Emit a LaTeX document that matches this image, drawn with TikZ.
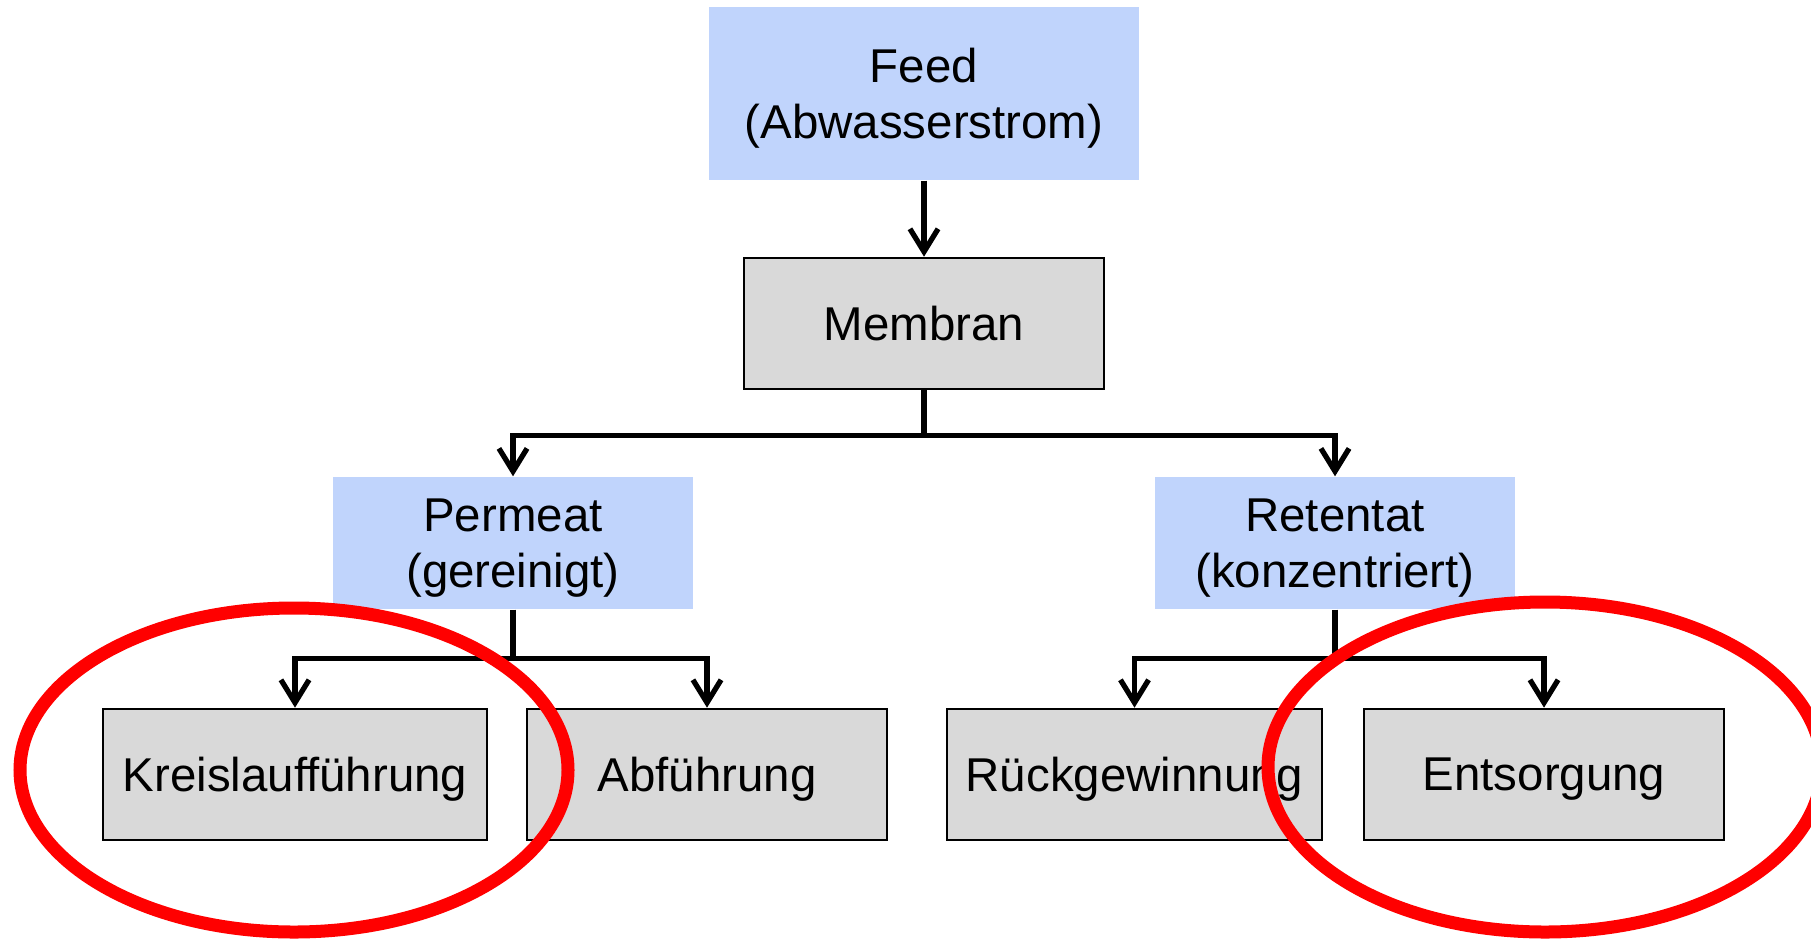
\documentclass[tikz,border=0pt]{standalone}
\usepackage{fontspec}
\setmainfont{Liberation Sans}
\usepackage{xcolor}
\usetikzlibrary{positioning, arrows.meta, calc}

\definecolor{feedblue}{HTML}{C0D4FC}
\definecolor{boxgray}{HTML}{D9D9D9}

\begin{document}
\begin{tikzpicture}[
    node distance=0.76cm and 0.4cm,
    stream/.style={rectangle, fill=feedblue, minimum width=3.6cm, minimum height=1.32cm, align=center, font=\fontsize{13.5}{16}\selectfont, inner sep=2pt, text depth=-1pt},
    unit/.style={rectangle, draw, line width=0.75pt, fill=boxgray, minimum width=3.6cm, minimum height=1.31cm, align=center, font=\fontsize{13.5}{16}\selectfont, text depth=0pt},
    arrow/.style={-{Straight Barb[length=6.5pt, width=8pt]}, line width=1.5pt},
    link/.style={line width=1.5pt},
    ring/.style={draw=red, line width=3.7pt}
]
\useasboundingbox (0,0) rectangle (18.11,-9.44);

% Input
\node[stream, minimum width=4.3cm, minimum height=1.73cm] (feed) at (9.24,-0.935) {Feed\\(Abwasserstrom)};

% Membrane
\node[unit, below=0.76cm of feed] (membran) {Membran};

% Outlet streams
\node[stream] (permeat) at (5.13,-5.43) {Permeat\\(gereinigt)};
\node[stream] (retentat) at (13.35,-5.43) {Retentat\\(konzentriert)};

% Destinations
\node[unit, minimum width=3.84cm] (kreis) at (2.95,-7.745) {Kreislaufführung};
\node[unit] (abf) at (7.07,-7.745) {Abführung};
\node[unit, minimum width=3.75cm] (rueck) at (11.345,-7.745) {Rückgewinnung};
\node[unit] (ents) at (15.44,-7.745) {Entsorgung};

% Split points
\coordinate (msplit) at ($(membran.south)+(0,-0.45)$);
\coordinate (psplit) at ($(permeat.south)+(0,-0.49)$);
\coordinate (rsplit) at ($(retentat.south)+(0,-0.49)$);

% Arrows
\draw[arrow] (feed) -- (membran);
\draw[link] (membran.south) -- (msplit);
\draw[arrow] (msplit) -| (permeat.north);
\draw[arrow] (msplit) -| (retentat.north);
\draw[link] (permeat.south) -- (psplit);
\draw[arrow] (psplit) -| (kreis.north);
\draw[arrow] (psplit) -| (abf.north);
\draw[link] (retentat.south) -- (rsplit);
\draw[arrow] (rsplit) -| (rueck.north);
\draw[arrow] (rsplit) -| (ents.north);

% Highlight rings
\draw[ring] (2.94,-7.70) ellipse [x radius=2.74, y radius=1.62];
\draw[ring] (15.45,-7.67) ellipse [x radius=2.77, y radius=1.65];

\end{tikzpicture}
\end{document}
